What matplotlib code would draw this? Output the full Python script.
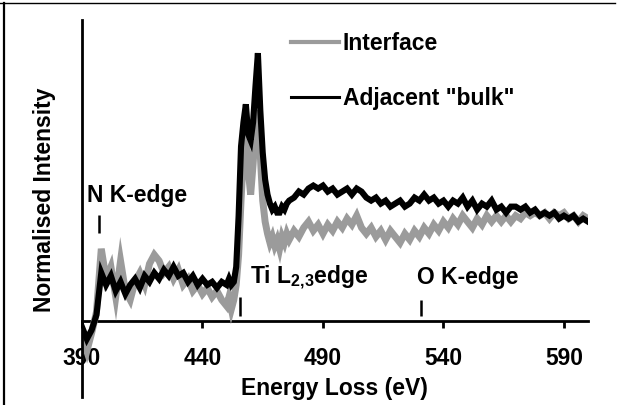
import matplotlib
matplotlib.use("Agg")
import matplotlib.pyplot as plt
from matplotlib.lines import Line2D

plt.rcParams['font.family'] = ['Liberation Sans', 'DejaVu Sans']
plt.rcParams['font.weight'] = 'bold'
plt.rcParams['mathtext.fontset'] = 'custom'
plt.rcParams['mathtext.rm'] = 'Liberation Sans:bold'
plt.rcParams['mathtext.it'] = 'Liberation Sans:bold'
plt.rcParams['mathtext.bf'] = 'Liberation Sans:bold'

# ---------------- data ----------------
energy = [390, 392, 394, 396, 398, 400, 402, 404, 406, 408, 410, 412, 414, 416, 418,
          420, 422, 424, 426, 428, 430, 432, 434, 436, 438, 440, 442, 444, 446, 448,
          450, 451, 452, 453, 454, 455, 456, 457, 458, 459, 460, 461, 462, 463, 464,
          465, 466, 467, 468, 469, 470, 471, 472, 473, 474, 475, 476, 478, 480, 482,
          484, 486, 488, 490, 492, 494, 496, 498, 500, 502, 504, 506, 508, 510, 512,
          514, 516, 518, 520, 522, 524, 526, 528, 530, 532, 534, 536, 538, 540, 542,
          544, 546, 548, 550, 552, 554, 556, 558, 560, 562, 564, 566, 568, 570, 572,
          574, 576, 578, 580, 582, 584, 586, 588, 590, 592, 594, 596, 598, 600]

interface = [-0.05, -0.10, -0.04, 0.03, 0.24, 0.14, 0.18, 0.08, 0.20, 0.10, 0.07, 0.13, 0.16, 0.12, 0.19,
             0.22, 0.20, 0.16, 0.18, 0.14, 0.17, 0.12, 0.14, 0.10, 0.12, 0.09, 0.11, 0.08, 0.10, 0.07,
             0.05, 0.08, 0.04, 0.07, 0.12, 0.22, 0.40, 0.55, 0.62, 0.50, 0.42, 0.52, 0.64, 0.70, 0.55,
             0.40, 0.33, 0.29, 0.26, 0.28, 0.25, 0.27, 0.24, 0.28, 0.26, 0.29, 0.27, 0.30, 0.28, 0.31,
             0.33, 0.30, 0.32, 0.29, 0.32, 0.30, 0.33, 0.31, 0.34, 0.32, 0.35, 0.31, 0.29, 0.31, 0.28,
             0.30, 0.27, 0.30, 0.28, 0.26, 0.29, 0.27, 0.30, 0.28, 0.31, 0.29, 0.32, 0.30, 0.33, 0.31,
             0.34, 0.32, 0.35, 0.33, 0.31, 0.34, 0.32, 0.35, 0.33, 0.35, 0.33, 0.35, 0.33, 0.35, 0.34,
             0.36, 0.35, 0.36, 0.35, 0.36, 0.34, 0.36, 0.35, 0.36, 0.34, 0.35, 0.33, 0.35, 0.34]

bulk = [-0.02, -0.06, -0.03, 0.02, 0.16, 0.12, 0.15, 0.10, 0.13, 0.09, 0.12, 0.14, 0.11, 0.15, 0.13,
        0.16, 0.14, 0.17, 0.15, 0.18, 0.15, 0.16, 0.13, 0.15, 0.12, 0.14, 0.12, 0.13, 0.11, 0.13,
        0.12, 0.14, 0.12, 0.13, 0.18, 0.35, 0.58, 0.66, 0.72, 0.62, 0.60, 0.66, 0.78, 0.89, 0.70,
        0.56, 0.47, 0.42, 0.39, 0.37, 0.38, 0.36, 0.36, 0.38, 0.37, 0.39, 0.40, 0.41, 0.43, 0.42,
        0.44, 0.45, 0.44, 0.45, 0.43, 0.44, 0.42, 0.43, 0.44, 0.42, 0.44, 0.43, 0.41, 0.40, 0.41,
        0.39, 0.40, 0.38, 0.39, 0.40, 0.38, 0.39, 0.41, 0.40, 0.42, 0.40, 0.41, 0.39, 0.40, 0.38,
        0.40, 0.39, 0.41, 0.38, 0.40, 0.37, 0.39, 0.38, 0.40, 0.37, 0.38, 0.36, 0.38, 0.38, 0.37,
        0.38, 0.36, 0.37, 0.35, 0.36, 0.35, 0.36, 0.34, 0.35, 0.34, 0.35, 0.33, 0.34, 0.33]

series_labels = ['Interface', 'Adjacent "bulk"']
xticks = [390, 440, 490, 540, 590]

edge_energies = [397, 455.7, 530.5]
edge_text_x = [392.1, 459.8, 529.2]
edge_labels = ['N K-edge', r'Ti L$_{\mathrm{2{,}3}}$edge', 'O K-edge']

# ---------------- figure ----------------
W, H = 617, 405
fig = plt.figure(figsize=(W / 100, H / 100), dpi=100)
ax = fig.add_axes([82 / W, 1 - 397 / H, (588 - 82) / W, (397 - 20) / H])

grey = '#9b9b9b'
ax.plot(energy, interface, color=grey, lw=5.0, solid_joinstyle='miter', zorder=2)
ax.plot(energy, bulk, color='black', lw=4.4, solid_joinstyle='miter', zorder=3)

ax.set_xlim(390, 600)
ax.set_ylim(-0.2525, 1.0)

for s in ['top', 'right']:
    ax.spines[s].set_visible(False)
ax.spines['left'].set_linewidth(2.0)
ax.spines['bottom'].set_linewidth(2.0)
ax.spines['bottom'].set_position(('data', 0))
ax.spines['bottom'].set_zorder(1)

ax.set_yticks([])
ax.set_xticks(xticks)
ax.set_xticklabels([str(t) for t in xticks])
ax.tick_params(axis='x', direction='out', length=5, width=2, pad=14,
               labelsize=16.5)
for lbl in ax.get_xticklabels():
    lbl.set_fontweight('bold')

# edge markers
ax.vlines(edge_energies[0], 0.292, 0.352, color='black', lw=1.8)
ax.vlines(edge_energies[1], 0.017, 0.080, color='black', lw=1.8)
ax.vlines(edge_energies[2], 0.017, 0.070, color='black', lw=1.8)
ax.text(edge_text_x[0], 0.395, edge_labels[0], fontsize=16.5, fontweight='bold', va='baseline')
ax.text(edge_text_x[1], 0.123, edge_labels[1], fontsize=16.5, fontweight='bold', va='baseline')
ax.text(edge_text_x[2], 0.123, edge_labels[2], fontsize=16.5, fontweight='bold', va='baseline')

# axis labels
fig.text(334 / W, 1 - 388 / H, 'Energy Loss (eV)', ha='center', va='center',
         fontsize=16.5, fontweight='bold')
fig.text(45 / W, 1 - 200 / H, 'Normalised Intensity', ha='center', va='center',
         rotation=90, fontsize=16.5, fontweight='bold')

# legend
handles = [Line2D([], [], color=grey, lw=3.0), Line2D([], [], color='black', lw=2.2)]
ax.legend(handles, series_labels, loc='upper left',
          bbox_to_anchor=(291 / W, 1 - 32 / H), bbox_transform=fig.transFigure,
          frameon=False, borderpad=0, borderaxespad=0, handlelength=2.1,
          handletextpad=0.15, labelspacing=1.4,
          prop={'size': 16.5, 'weight': 'bold'})

# page frame
fig.add_artist(Line2D([4 / W, 4 / W], [0, 1 - 3 / H], transform=fig.transFigure,
                      color='black', lw=1.6))
fig.add_artist(Line2D([0, 615 / W], [1 - 3 / H, 1 - 3 / H], transform=fig.transFigure,
                      color='black', lw=1.0))

fig.savefig('out.png', dpi=100)
